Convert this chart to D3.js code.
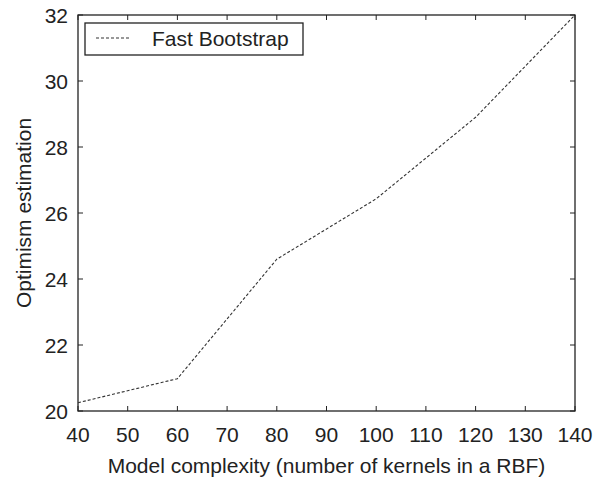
<!DOCTYPE html>
<html>
<head>
<meta charset="utf-8">
<script src="https://cdn.jsdelivr.net/npm/d3@7"></script>
<style>
  body { margin: 0; background: #fff; }
  svg text { font-family: "Liberation Sans", Arial, sans-serif; fill: #222; }
</style>
</head>
<body>
<svg id="chart" width="594" height="480"></svg>
<script>
const kernels = [40, 60, 80, 100, 120, 140];
const optimism = [20.25, 20.98, 24.6, 26.43, 28.9, 32.0];
const xTicks = [40, 50, 60, 70, 80, 90, 100, 110, 120, 130, 140];
const yTicks = [20, 22, 24, 26, 28, 30, 32];
const seriesName = "Fast Bootstrap";

const svg = d3.select("#chart");
const width = 594, height = 480;
const m = { top: 15, right: 19, bottom: 69, left: 78 };
const fs = "21px";

const x = d3.scaleLinear().domain([40, 140]).range([m.left, width - m.right]);
const y = d3.scaleLinear().domain([20, 32]).range([height - m.bottom, m.top]);

const ink = "#222";
const tick = 5;

// frame
svg.append("rect")
  .attr("x", m.left).attr("y", m.top)
  .attr("width", width - m.left - m.right)
  .attr("height", height - m.top - m.bottom)
  .attr("fill", "none").attr("stroke", ink).attr("stroke-width", 1.3);

// inward ticks on all sides
const tickG = svg.append("g").attr("stroke", ink).attr("stroke-width", 1);
xTicks.forEach(v => {
  tickG.append("line").attr("x1", x(v)).attr("x2", x(v))
    .attr("y1", y(20)).attr("y2", y(20) - tick);
  tickG.append("line").attr("x1", x(v)).attr("x2", x(v))
    .attr("y1", y(32)).attr("y2", y(32) + tick);
});
yTicks.forEach(v => {
  tickG.append("line").attr("x1", x(40)).attr("x2", x(40) + tick)
    .attr("y1", y(v)).attr("y2", y(v));
  tickG.append("line").attr("x1", x(140)).attr("x2", x(140) - tick)
    .attr("y1", y(v)).attr("y2", y(v));
});

// tick labels
svg.append("g").selectAll("text")
  .data(xTicks).join("text")
  .attr("x", d => x(d))
  .attr("y", height - m.bottom + 31)
  .attr("text-anchor", "middle")
  .attr("font-size", fs)
  .text(d => d);

svg.append("g").selectAll("text")
  .data(yTicks).join("text")
  .attr("x", m.left - 10)
  .attr("y", d => y(d))
  .attr("dy", "0.36em")
  .attr("text-anchor", "end")
  .attr("font-size", fs)
  .text(d => d);

// axis titles
svg.append("text")
  .attr("x", (m.left + width - m.right) / 2)
  .attr("y", 473)
  .attr("text-anchor", "middle")
  .attr("font-size", fs)
  .text("Model complexity (number of kernels in a RBF)");

svg.append("text")
  .attr("transform", `translate(31,${(m.top + height - m.bottom) / 2}) rotate(-90)`)
  .attr("text-anchor", "middle")
  .attr("font-size", fs)
  .text("Optimism estimation");

// series
const line = d3.line()
  .x((d, i) => x(kernels[i]))
  .y(d => y(d));

svg.append("path")
  .datum(optimism)
  .attr("fill", "none")
  .attr("stroke", "#333")
  .attr("stroke-width", 1.1)
  .attr("stroke-dasharray", "3 2")
  .attr("d", line);

// legend
const lg = svg.append("g").attr("transform", "translate(85,23)");
lg.append("rect")
  .attr("width", 218).attr("height", 32)
  .attr("fill", "#fff").attr("stroke", ink).attr("stroke-width", 1.3);
lg.append("line")
  .attr("x1", 11).attr("x2", 46).attr("y1", 15).attr("y2", 15)
  .attr("stroke", "#333").attr("stroke-width", 1.1).attr("stroke-dasharray", "3 2");
lg.append("text")
  .attr("x", 67).attr("y", 23)
  .attr("font-size", fs)
  .text(seriesName);
</script>
</body>
</html>
